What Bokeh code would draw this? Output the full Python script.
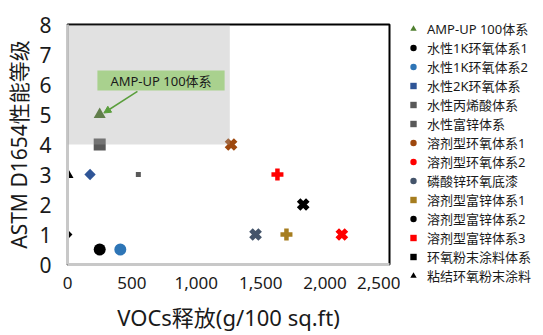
import math
import numpy as np
from bokeh.plotting import figure
from bokeh.layouts import row, column
from bokeh.models import (Range1d, BoxAnnotation, Label, Arrow, NormalHead, Legend,
                          LegendItem, NumeralTickFormatter, FixedTicker)
from bokeh.embed import file_html
from bokeh.resources import INLINE

# ---------------- data ----------------
names = ["AMP-UP 100体系", "水性1K环氧体系1", "水性1K环氧体系2", "水性2K环氧体系",
         "水性丙烯酸体系", "水性富锌体系", "溶剂型环氧体系1", "溶剂型环氧体系2",
         "磷酸锌环氧底漆", "溶剂型富锌体系1", "溶剂型富锌体系2", "溶剂型富锌体系3",
         "环氧粉末涂料体系", "粘结环氧粉末涂料"]
voc = [250, 250, 410, 175, 550, 250, 1270, 1630, 1460, 1700, 1830, 2130, 0, 0]
rating = [5, 0.5, 0.5, 3, 3, 4, 4, 3, 1, 1, 2, 1, 1, 3]
x_ticks = [0, 500, 1000, 1500, 2000, 2500]
y_ticks = [0, 1, 2, 3, 4, 5, 6, 7, 8]
callout_text = "AMP-UP 100体系"
x_title = "VOCs释放(g/100 sq.ft)"
y_title = "ASTM D1654性能等级"

# ---------------- styles ----------------
colors = ["#3d6a1c", "#000000", "#2E75B6", "#2F5597", "#595959", "#595959",
          "#9E480E", "#FF0000", "#44546A", "#A67D1F", "#000000", "#FF0000",
          "#000000", "#000000"]
markers = ["triangle", "circle", "circle", "square", "square", "square",
           "x", "plus", "x", "plus", "x", "x", "square", "triangle"]
angles = [0, 0, 0, math.pi / 4, 0, 0, 0, 0, 0, 0, 0, 0, math.pi / 4, 0]
sizes = [12, 12, 12, 8, 5, 12, 13, 12, 13, 12, 13, 13, 7, 12]
legend_markers = ["triangle", "circle", "circle", "square", "square", "square",
                  "circle", "circle", "circle", "square", "circle", "square",
                  "square", "triangle"]
legend_colors = ["#4f7f2f", "#000000", "#2E75B6", "#2F5597", "#595959", "#595959",
                 "#9E480E", "#FF0000", "#44546A", "#A67D1F", "#000000", "#FF0000",
                 "#000000", "#000000"]

FONT = "Noto Sans, Noto Sans CJK SC"
TXT = "#1a1a1a"

p = figure(width=400, height=335, output_backend="svg", toolbar_location=None,
           x_range=Range1d(0, 2500), y_range=Range1d(0, 8),
           min_border_left=67, min_border_right=11, min_border_top=24,
           min_border_bottom=71)
p.grid.visible = False
p.outline_line_color = "black"
p.outline_line_width = 2
p.background_fill_color = "white"
p.border_fill_color = "white"

for ax in (p.xaxis[0], p.yaxis[0]):
    ax.axis_line_color = "#c8c8c8"
    ax.axis_line_width = 3
    ax.major_tick_line_color = None
    ax.minor_tick_line_color = None
    ax.major_label_text_font = FONT
    ax.major_label_text_color = TXT
    ax.axis_label_text_font = FONT
    ax.axis_label_text_font_style = "normal"
    ax.axis_label_text_color = TXT

p.xaxis.ticker = FixedTicker(ticks=x_ticks)
p.xaxis.formatter = NumeralTickFormatter(format="0,0")
p.xaxis.major_label_text_font_size = "17px"
p.xaxis.major_label_standoff = 6
p.xaxis.axis_label = x_title
p.xaxis.axis_label_text_font_size = "22px"
p.xaxis.axis_label_standoff = 10

p.yaxis.ticker = FixedTicker(ticks=y_ticks)
p.yaxis.major_label_text_font_size = "21px"
p.yaxis.major_label_standoff = 10
p.yaxis.axis_label = y_title
p.yaxis.axis_label_text_font_size = "21px"
p.yaxis.axis_label_standoff = 3

for i in range(len(names)):
    if markers[i] == "x":
        p.scatter(x=[voc[i]], y=[rating[i]], marker="x", size=sizes[i],
                  line_color=colors[i], line_width=5)
    else:
        p.scatter(x=[voc[i]], y=[rating[i]], marker=markers[i], size=sizes[i],
                  angle=angles[i], fill_color=colors[i], line_color=None)

# semi-transparent gray overlay region (top-left zone)
p.add_layout(BoxAnnotation(left=0, right=1260, bottom=4, top=8,
                           fill_color="#a6a6a6", fill_alpha=0.34, line_color=None))

# callout
p.add_layout(Arrow(x_start=543, y_start=5.77, x_end=282, y_end=5.05,
                   line_color="#5a9e3c", line_width=1.5,
                   end=NormalHead(size=7, fill_color="#5a9e3c", line_color="#5a9e3c")))
p.add_layout(Label(x=726, y=6.13, text=callout_text, text_align="center",
                   text_baseline="middle", text_font=FONT, text_font_size="13px",
                   text_color=TXT, background_fill_color="#A9D18E",
                   padding=dict(left=13, right=13, top=1, bottom=1)))

# legend panel (separate figure to the right)
lp = figure(width=143, height=335, output_backend="svg", toolbar_location=None,
            x_range=Range1d(0, 1), y_range=Range1d(0, 1),
            x_axis_location=None, y_axis_location=None,
            min_border_left=5, min_border_right=0, min_border_top=19, min_border_bottom=0)
lp.grid.visible = False
lp.outline_line_color = None
lp.background_fill_color = "white"
lp.border_fill_color = "white"

items = []
for i in range(len(names)):
    lr = lp.scatter(x=np.array([np.nan]), y=np.array([np.nan]), marker=legend_markers[i],
                    angle=angles[i], fill_color=legend_colors[i], line_color=None)
    items.append(LegendItem(label=names[i], renderers=[lr]))

legend = Legend(items=items, location="top_left", orientation="vertical",
                label_text_font=FONT, label_text_font_size="13px",
                label_text_color=TXT, glyph_width=16, glyph_height=17,
                label_height=17, spacing=0, label_standoff=6, padding=0, margin=0,
                border_line_color=None, background_fill_alpha=0)
lp.add_layout(legend)

layout = row(p, column(lp), spacing=0)
open("out.html", "w").write(file_html(layout, INLINE))
